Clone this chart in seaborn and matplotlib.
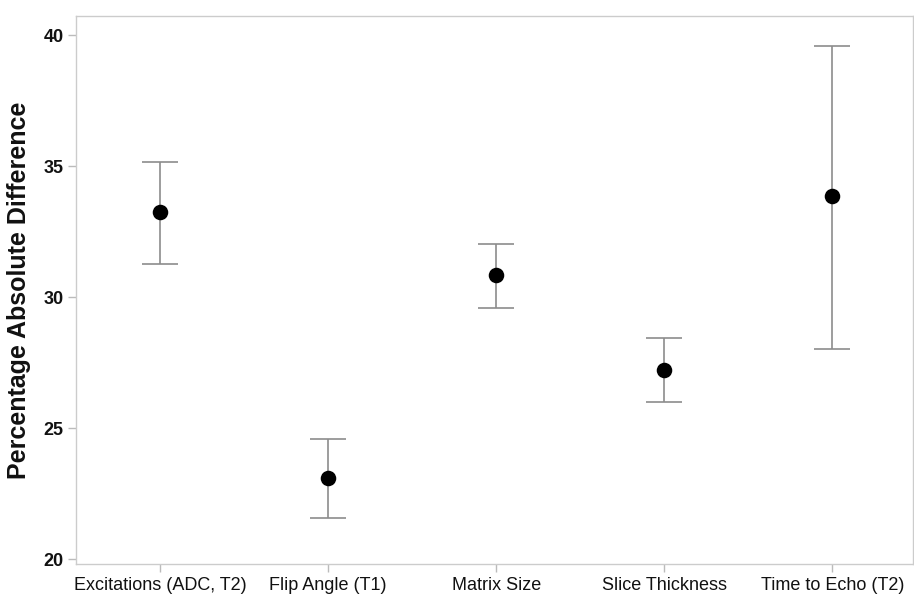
import numpy as np
import pandas as pd
import matplotlib
matplotlib.use("Agg")
import matplotlib.pyplot as plt
import seaborn as sns

# Scan parameters and their percentage absolute difference (mean with interval)
categories = ["Excitations (ADC, T2)", "Flip Angle (T1)", "Matrix Size",
              "Slice Thickness", "Time to Echo (T2)"]
means = [33.26, 23.08, 30.84, 27.23, 33.84]
lower = [31.28, 21.56, 29.60, 26.01, 28.02]
upper = [35.14, 24.57, 32.01, 28.44, 39.59]
yticks = [20, 25, 30, 35, 40]

df = pd.DataFrame({"param": categories, "mean": means,
                   "lower": lower, "upper": upper})

sns.set_theme(style="white")
plt.rcParams["font.family"] = ["Liberation Sans", "DejaVu Sans"]

fig = plt.figure(figsize=(9.14, 5.98), dpi=100)
ax = fig.add_axes([0.0832, 0.0564, 0.9158, 0.9173])

xpos = np.arange(len(categories))
yerr = np.vstack([df["mean"] - df["lower"], df["upper"] - df["mean"]])
ax.errorbar(xpos, df["mean"], yerr=yerr, fmt="none", ecolor="#8c8c8c",
            elinewidth=1.2, capsize=13.3, capthick=1.2, zorder=2)
sns.scatterplot(x=xpos, y=df["mean"], ax=ax, color="black", s=125,
                edgecolor="black", linewidth=0, zorder=3, legend=False)

ax.set_xlim(-0.5, 4.48)
ax.set_ylim(19.8, 40.74)
ax.set_xticks(xpos)
ax.set_xticklabels(categories, fontsize=13, color="#111111")
ax.set_yticks(yticks)
ax.set_yticklabels([str(v) for v in yticks], fontsize=13,
                   fontweight="bold", color="#111111")
ax.set_xlabel("")
ax.set_ylabel("Percentage Absolute Difference", fontsize=18,
              fontweight="bold", color="#111111", labelpad=9)

for side in ["left", "right", "top", "bottom"]:
    ax.spines[side].set_visible(True)
    ax.spines[side].set_color("#cccccc")
    ax.spines[side].set_linewidth(1.0)

ax.tick_params(axis="both", which="major", direction="out", length=6,
               width=1.0, color="#bbbbbb", left=True, bottom=True, pad=3)

fig.savefig("out.png", dpi=100, facecolor="white")
